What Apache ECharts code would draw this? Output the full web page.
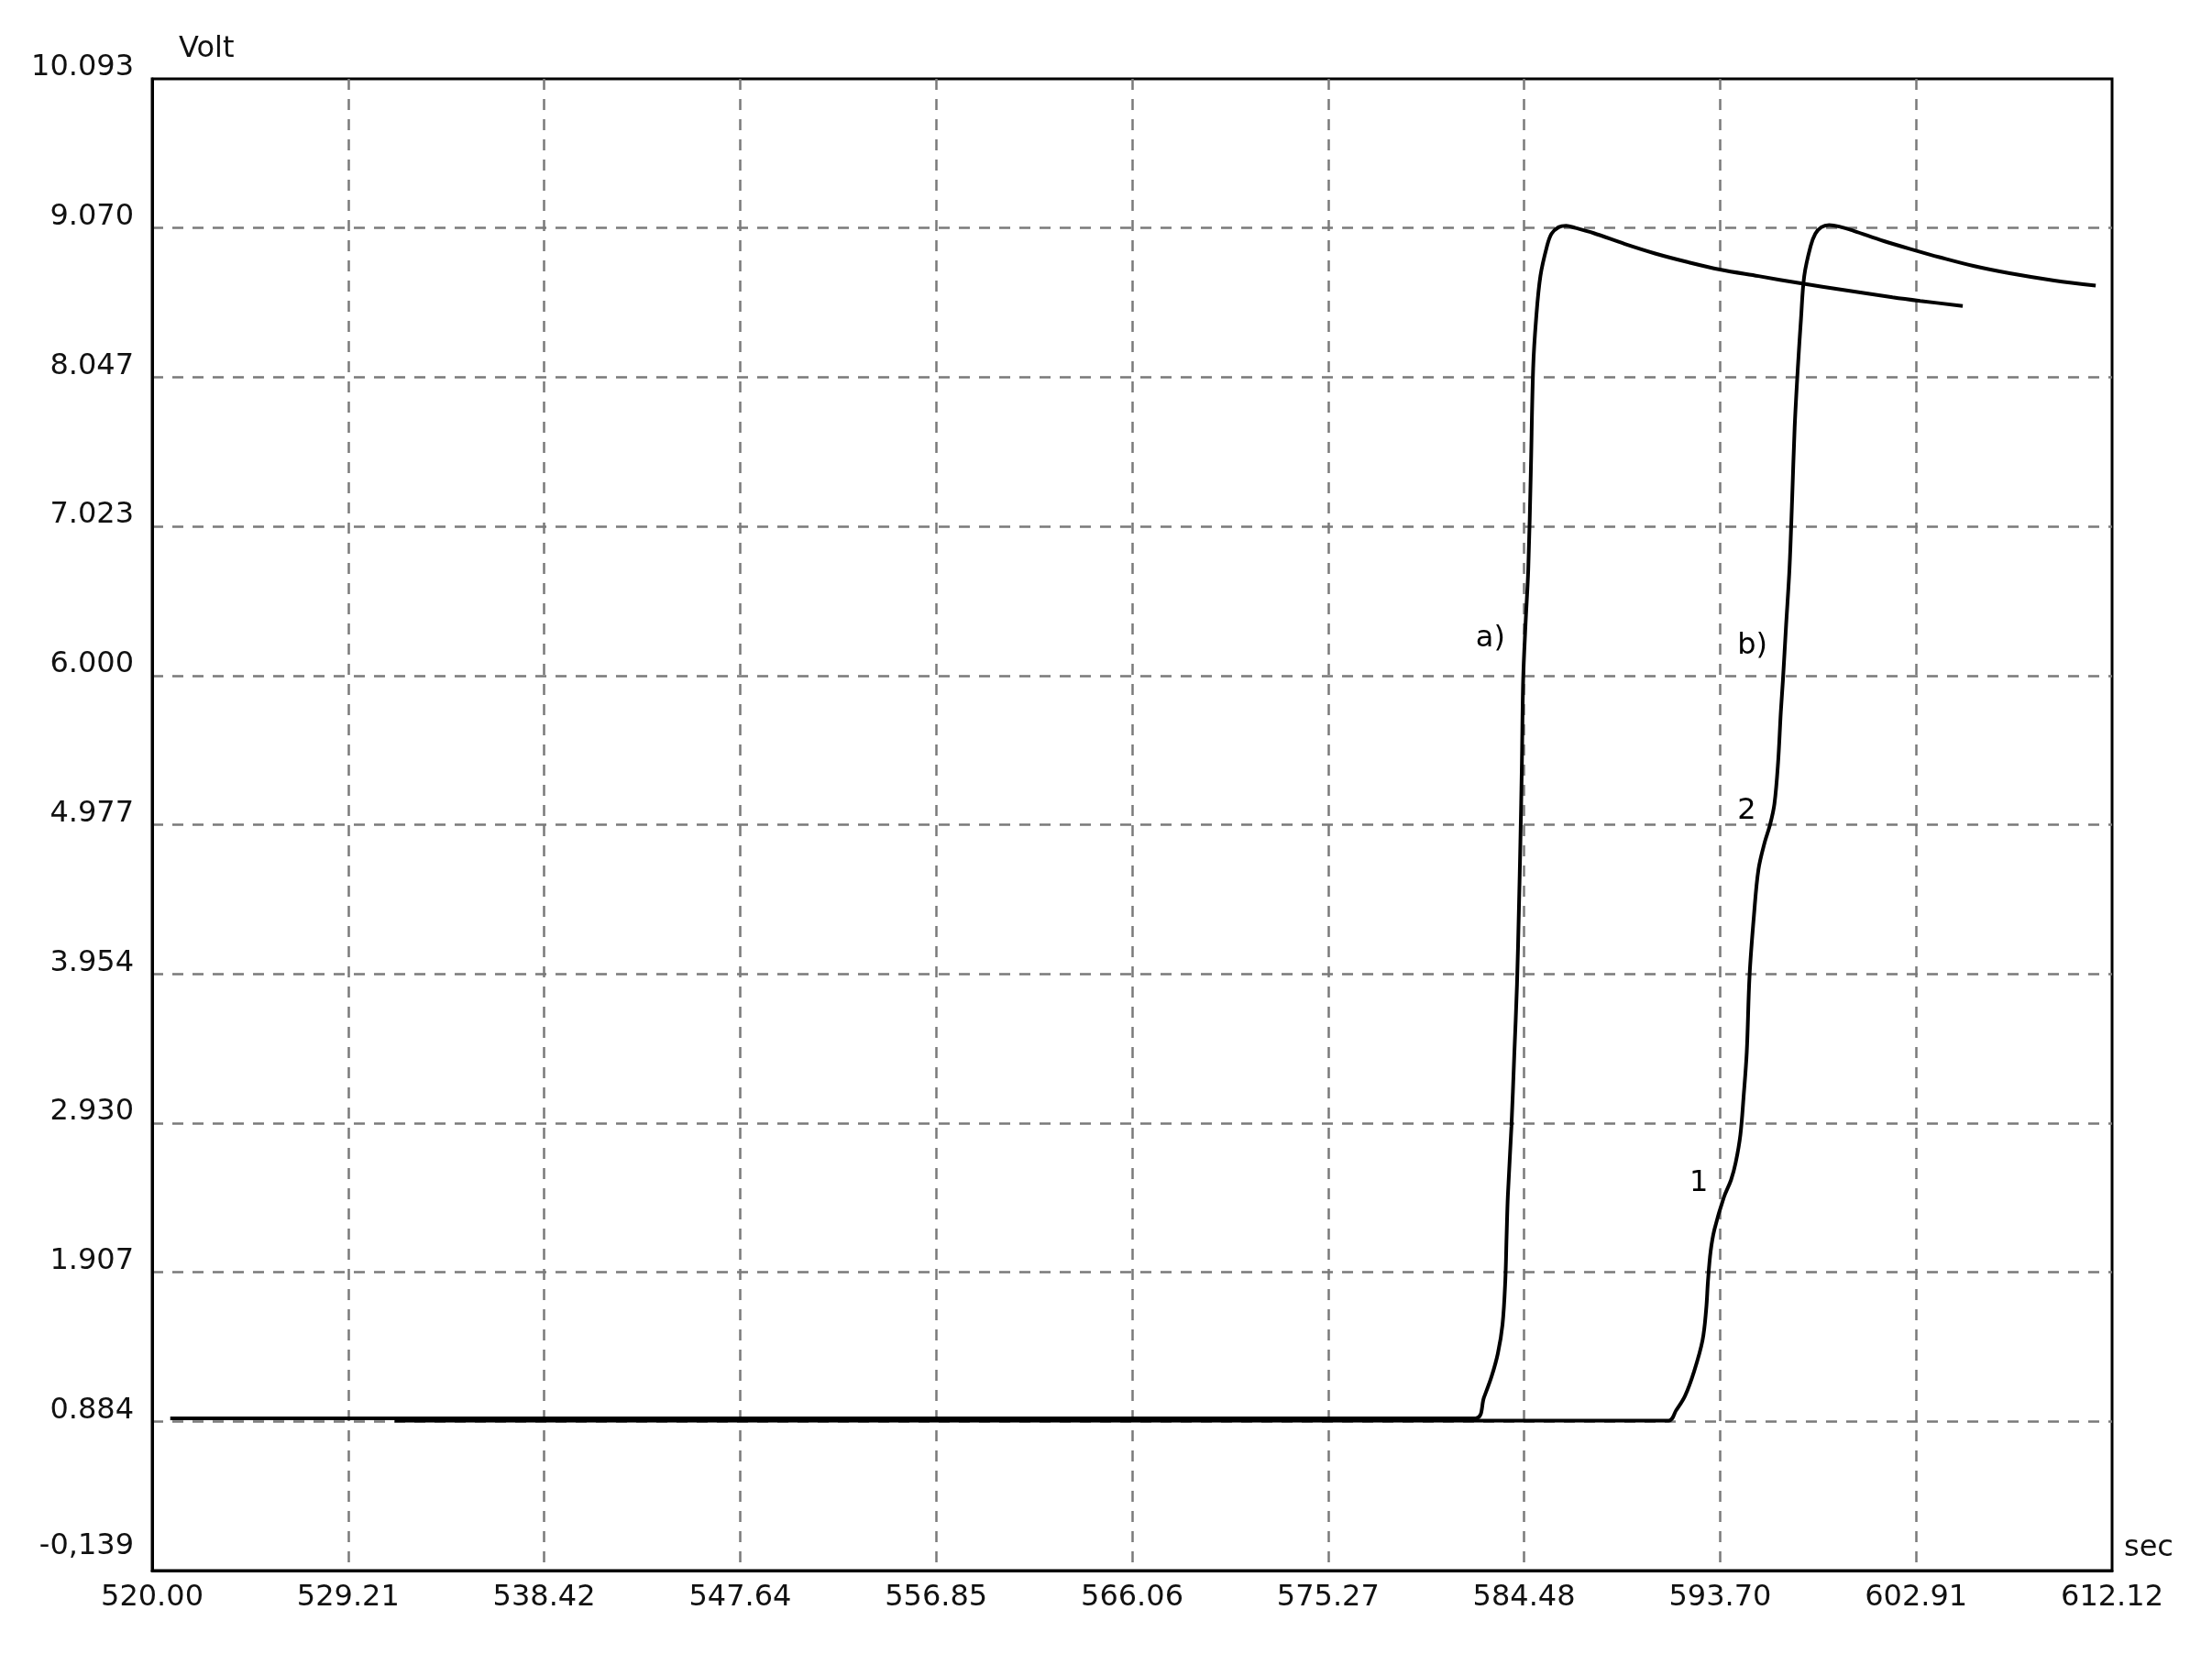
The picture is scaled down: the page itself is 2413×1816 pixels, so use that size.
<!DOCTYPE html>
<html>
<head>
<meta charset="utf-8">
<script src="https://cdn.jsdelivr.net/npm/echarts@6/dist/echarts.min.js"></script>
<style>
html,body{margin:0;padding:0;background:#fff;}
#chart{width:2413px;height:1816px;}
</style>
</head>
<body>
<div id="chart"></div>
<script>
// ---- data ----
const xMin = 520.00, xMax = 612.12, xStep = 9.212;
const yMin = -0.139, yMax = 10.093, yStep = 1.0232;
const xTickLabels = ['520.00','529.21','538.42','547.64','556.85','566.06','575.27','584.48','593.70','602.91','612.12'];
const yTickLabels = ['-0,139','0.884','1.907','2.930','3.954','4.977','6.000','7.023','8.047','9.070','10.093'];

const curveA = [
  [520.85,0.905],[582.20,0.905],[582.60,1.05],[582.95,1.19],[583.25,1.35],[583.47,1.55],
  [583.60,1.85],[583.66,2.15],[583.72,2.43],[583.89,2.91],[584.02,3.39],[584.15,3.88],
  [584.24,4.40],[584.31,4.86],[584.38,5.40],[584.44,5.97],[584.55,6.35],[584.68,6.73],
  [584.80,7.40],[584.91,8.11],[585.05,8.45],[585.25,8.74],[585.56,8.945],[585.77,9.03],
  [586.10,9.075],[586.46,9.085],[586.90,9.07],[587.75,9.035],[589.22,8.96],[590.64,8.895],
  [592.20,8.835],[593.69,8.785],[595.50,8.74],[597.50,8.69],[599.50,8.645],[601.80,8.595],
  [603.10,8.57],[605.10,8.535]
];
const curveB = [
  [531.40,0.89],[591.28,0.89],[591.63,0.96],[592.05,1.06],[592.48,1.23],[592.87,1.44],
  [593.04,1.65],[593.13,1.855],[593.25,2.05],[593.43,2.20],[593.87,2.42],[594.21,2.54],
  [594.43,2.66],[594.65,2.85],[594.80,3.11],[594.95,3.42],[595.08,3.94],[595.29,4.36],
  [595.50,4.67],[595.80,4.86],[596.05,4.98],[596.25,5.12],[596.42,5.40],[596.55,5.75],
  [596.65,5.97],[596.80,6.35],[596.96,6.74],[597.08,7.20],[597.20,7.70],[597.35,8.11],
  [597.50,8.45],[597.65,8.74],[597.95,8.945],[598.17,9.03],[598.45,9.075],[598.82,9.09],
  [599.30,9.08],[599.98,9.05],[601.40,8.98],[602.90,8.915],[604.00,8.87],[605.60,8.81],
  [607.30,8.76],[609.40,8.71],[611.35,8.675]
];
const annText = ['a)','b)','2','1'];
const annX = [582.90, 595.21, 594.95, 592.70];
const annY = [6.25, 6.20, 5.07, 2.52];

// ---- chart ----
const FONT = 'DejaVu Sans';
const TXT = '#111';
const chart = echarts.init(document.getElementById('chart'), null, {renderer:'canvas'});
const annData = annX.map((x,i)=>[x, annY[i]]);

chart.setOption({
  backgroundColor: '#fff',
  animation: false,
  grid: {
    left: 166, right: 109, top: 86, bottom: 103,
    containLabel: false, outerBoundsMode: 'none',
    show: true, borderColor: '#000', borderWidth: 3, backgroundColor: 'transparent'
  },
  xAxis: {
    type: 'value', min: xMin, max: xMax, interval: xStep,
    name: 'sec', nameLocation: 'end', nameGap: 13,
    nameTextStyle: {fontFamily: FONT, fontSize: 32, color: TXT, align: 'left', verticalAlign: 'bottom', padding: [0,0,8,0]},
    axisLine: {show: true, onZero: false, lineStyle: {color: '#000', width: 3}},
    axisTick: {show: false},
    axisLabel: {
      fontFamily: FONT, fontSize: 32, color: TXT, margin: 14,
      showMinLabel: true, showMaxLabel: true, hideOverlap: false,
      formatter: (v) => xTickLabels[Math.round((v - xMin) / xStep)]
    },
    splitLine: {show: true, showMinLine: false, showMaxLine: false,
      lineStyle: {color: '#7a7a7a', width: 2.5, type: [12, 10]}}
  },
  yAxis: {
    type: 'value', min: yMin, max: yMax, interval: yStep,
    name: 'Volt', nameLocation: 'end', nameGap: 16,
    nameTextStyle: {fontFamily: FONT, fontSize: 32, color: TXT, align: 'left', verticalAlign: 'bottom', padding: [0,0,0,29]},
    axisLine: {show: true, onZero: false, lineStyle: {color: '#000', width: 3}},
    axisTick: {show: false},
    axisLabel: {
      fontFamily: FONT, fontSize: 32, color: TXT, margin: 20,
      showMinLabel: true, showMaxLabel: true,
      formatter: (v) => {
        const i = Math.round((v - yMin) / yStep);
        const t = yTickLabels[i];
        return i === 0 ? '{low|' + t + '}' : '{n|' + t + '}';
      },
      rich: {
        n: {fontFamily: FONT, fontSize: 32, color: TXT, padding: [0,0,24,0]},
        low: {fontFamily: FONT, fontSize: 32, color: TXT, padding: [0,0,52,0]}
      }
    },
    splitLine: {show: true, showMinLine: false, showMaxLine: false,
      lineStyle: {color: '#7a7a7a', width: 2.5, type: [12, 10]}}
  },
  series: [
    {
      name: 'a', type: 'line', data: curveA, showSymbol: false, symbol: 'none',
      smooth: 0.35,
      lineStyle: {color: '#000', width: 4}, z: 3
    },
    {
      name: 'b', type: 'line', data: curveB, showSymbol: false, symbol: 'none',
      smooth: 0.35,
      lineStyle: {color: '#000', width: 4}, z: 3
    },
    {
      name: 'labels', type: 'scatter', data: annData, symbolSize: 0, z: 4,
      silent: true,
      itemStyle: {opacity: 1, color: '#000'},
      label: {
        show: true, position: 'inside', opacity: 1,
        fontFamily: FONT, fontSize: 32, color: '#000',
        textBorderWidth: 0,
        formatter: (p) => annText[p.dataIndex]
      }
    }
  ]
});
</script>
</body>
</html>
